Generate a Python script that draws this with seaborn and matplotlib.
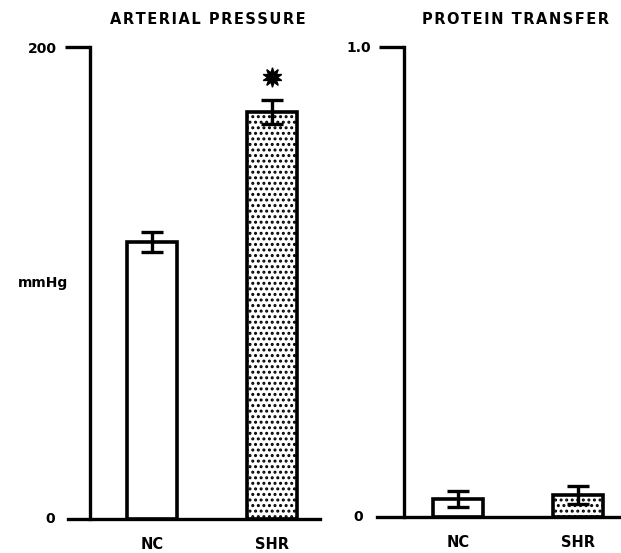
import matplotlib
matplotlib.use("Agg")
import matplotlib.pyplot as plt
import seaborn as sns
import pandas as pd

groups = ["NC", "SHR"]
pressure_mean = [117.5, 172.5]
pressure_err = [4.2, 5.0]
protein_mean = [0.038, 0.047]
protein_err = [0.017, 0.019]
hatches = [None, "..."]

sns.set_theme(style="white")
plt.rcParams["font.family"] = ["DejaVu Sans"]
plt.rcParams["hatch.linewidth"] = 1.4
plt.rcParams["text.color"] = "black"
plt.rcParams["xtick.color"] = "black"
plt.rcParams["ytick.color"] = "black"

fig = plt.figure(figsize=(6.21, 5.53), dpi=100)
ax1 = fig.add_axes([0.1095, 0.0615, 0.406, 0.8535])
ax2 = fig.add_axes([0.607, 0.0651, 0.391, 0.850])


def spaced(s):
    return "\u200a".join(s)


def panel(ax, means, errs, ymax, toplabel, spine_x, xl, xr):
    df = pd.DataFrame({"group": groups, "value": means})
    sns.barplot(data=df, x="group", y="value", ax=ax, width=0.42,
                color="white", errorbar=None, saturation=1)
    for patch, h in zip(ax.patches, hatches):
        patch.set_edgecolor("black")
        patch.set_linewidth(2.6)
        patch.set_facecolor("white")
        if h:
            patch.set_hatch(h)
    ax.errorbar(range(len(groups)), means, yerr=errs, fmt="none",
                ecolor="black", elinewidth=2.4, capsize=8, capthick=2.4,
                zorder=5)
    ax.set_xlim(xl, xr)
    ax.set_ylim(0, ymax)
    for s in ["top", "right"]:
        ax.spines[s].set_visible(False)
    ax.spines["left"].set_position(("data", spine_x))
    ax.spines["left"].set_bounds(0, ymax)
    for s in ["left", "bottom"]:
        ax.spines[s].set_color("black")
        ax.spines[s].set_linewidth(2.4)
    ax.set_yticks([ymax])
    ax.set_yticklabels([toplabel], fontsize=10, fontweight="bold")
    ax.tick_params(axis="y", left=True, length=18, width=2.4, pad=6,
                   color="black")
    ax.tick_params(axis="x", bottom=False, length=0, pad=13)
    for lab in ax.get_xticklabels():
        lab.set_fontsize(10.5)
        lab.set_fontweight("bold")
    ax.set_xlabel("")
    ax.set_ylabel("")
    ax.patch.set_alpha(0)
    for sp in ax.spines.values():
        sp.set_clip_on(False)


panel(ax1, pressure_mean, pressure_err, 200, "200", -0.517, -0.70, 1.40)
panel(ax2, protein_mean, protein_err, 1.0, "1.0", -0.45, -0.675, 1.35)

fig.text(208 / 621, 1 - 20 / 553, spaced("ARTERIAL PRESSURE"), ha="center",
         va="center", fontsize=10.5, fontweight="bold")
fig.text(515 / 621, 1 - 20 / 553, spaced("PROTEIN TRANSFER"), ha="center",
         va="center", fontsize=10.5, fontweight="bold")

# zero labels
ax1.text(-0.85, 0, "0", ha="center", va="center", fontsize=10, fontweight="bold")
ax2.text(-0.83, 0, "0", ha="center", va="center", fontsize=10, fontweight="bold")
ax1.text(-1.12, 100, "mmHg", ha="left", va="center", fontsize=10,
         fontweight="bold", clip_on=False)

# significance marker
ax1.plot([1], [pressure_mean[1] + pressure_err[1] + 10], marker=(10, 1, 0),
         markersize=14, color="black", clip_on=False)

fig.savefig("out.png", dpi=100)
